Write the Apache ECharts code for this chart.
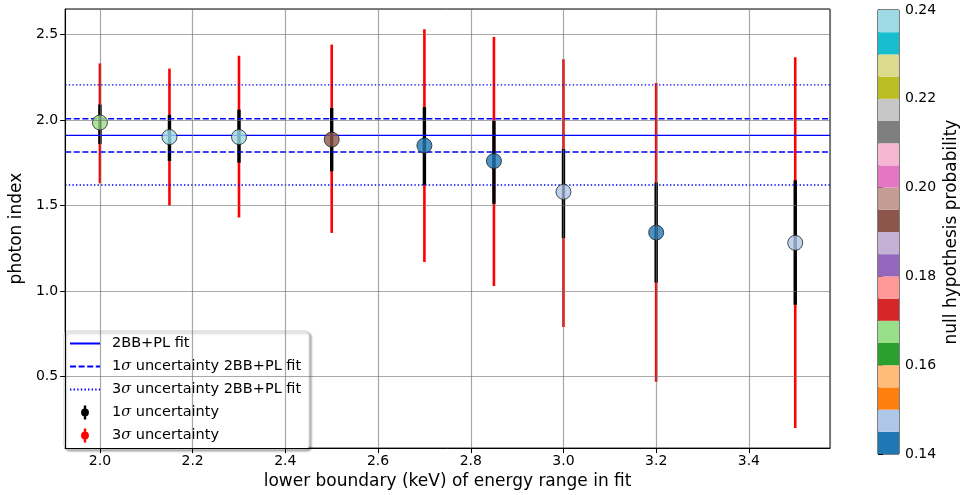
<!DOCTYPE html>
<html>
<head>
<meta charset="utf-8">
<script src="https://cdn.jsdelivr.net/npm/echarts@6/dist/echarts.min.js"></script>
<style>
  html, body { margin: 0; padding: 0; background: #fff; }
  #main { width: 961px; height: 495px; }
</style>
</head>
<body>
<div id="main"></div>
<script>
// lower boundary of the energy range (keV)
var energies = [2.0, 2.15, 2.3, 2.5, 2.7, 2.85, 3.0, 3.2, 3.5]
var photonIndex = [1.985, 1.90, 1.90, 1.885, 1.85, 1.76, 1.58, 1.342, 1.282]
var sig1Lo = [1.86, 1.76, 1.75, 1.70, 1.62, 1.51, 1.31, 1.05, 0.92]
var sig1Hi = [2.09, 2.03, 2.06, 2.07, 2.075, 1.995, 1.83, 1.634, 1.647]
var sig3Lo = [1.63, 1.50, 1.43, 1.34, 1.17, 1.03, 0.79, 0.47, 0.20]
var sig3Hi = [2.33, 2.30, 2.375, 2.44, 2.53, 2.485, 2.355, 2.216, 2.366]
var nullProb = [0.167, 0.238, 0.238, 0.192, 0.142, 0.142, 0.147, 0.142, 0.147]

// 2BB+PL fit and its uncertainties
var fitValue = 1.91
var fit1Sigma = [2.007, 1.813]
var fit3Sigma = [2.205, 1.62]

var xRange = [1.925, 3.575]
var yRange = [0.083, 2.648]
var cbarRange = [0.14, 0.24]

// tab20
var tab20 = ['#1f77b4', '#aec7e8', '#ff7f0e', '#ffbb78', '#2ca02c', '#98df8a', '#d62728', '#ff9896',
  '#9467bd', '#c5b0d5', '#8c564b', '#c49c94', '#e377c2', '#f7b6d2', '#7f7f7f', '#c7c7c7',
  '#bcbd22', '#dbdb8d', '#17becf', '#9edae5']

var FONT = 'DejaVu Sans'

function probColor(p) {
  var i = Math.floor((p - cbarRange[0]) / (cbarRange[1] - cbarRange[0]) * tab20.length)
  return tab20[Math.max(0, Math.min(tab20.length - 1, i))]
}

function hline(v) {
  return [[xRange[0], v], [xRange[1], v]]
}

function errBar(color, width) {
  return function(params, api) {
    var p0 = api.coord([api.value(0), api.value(1)])
    var p1 = api.coord([api.value(0), api.value(2)])
    return {
      type: 'line',
      shape: {x1: p0[0], y1: p0[1], x2: p1[0], y2: p1[1]},
      style: {stroke: color, lineWidth: width}
    }
  }
}

var bars3 = energies.map(function(e, i) { return [e, sig3Lo[i], sig3Hi[i]] })
var bars1 = energies.map(function(e, i) { return [e, sig1Lo[i], sig1Hi[i]] })
var points = energies.map(function(e, i) { return [e, photonIndex[i], nullProb[i]] })
var cbarBins = tab20.map(function(c, i) {
  var step = (cbarRange[1] - cbarRange[0]) / tab20.length
  return [0, cbarRange[0] + i * step, cbarRange[0] + (i + 1) * step, i]
})

var errIcon = 'path://M3.6,0h2.8v16h-2.8z M0.5,8a4.5,4.5 0 1 1 9,0a4.5,4.5 0 1 1 -9,0z'
var gridLine = {show: true, lineStyle: {color: 'rgba(110,110,110,0.6)', width: 1.2}}
var noSymbol = {opacity: 0}

var myChart = echarts.init(document.getElementById('main'))
myChart.setOption({
  animation: false,
  textStyle: {fontFamily: FONT},
  grid: [
    {left: 57, top: 9, width: 773, height: 445, show: true, borderColor: '#000', borderWidth: 1},
    {left: 878, top: 10, width: 22, height: 444, show: true, borderColor: '#000', borderWidth: 1}
  ],
  legend: {
    orient: 'vertical',
    left: 64,
    top: 331,
    padding: [5, 8, 6, 5],
    itemWidth: 30,
    itemHeight: 14,
    itemGap: 8,
    backgroundColor: '#fff',
    borderColor: '#d0d0d0',
    borderWidth: 1,
    borderRadius: 4,
    shadowColor: 'rgba(0,0,0,0.3)',
    shadowBlur: 2,
    shadowOffsetX: 2,
    shadowOffsetY: 2,
    textStyle: {
      fontFamily: FONT,
      fontSize: 14.5,
      color: '#000',
      padding: [0, 0, 0, 7],
      rich: {s: {fontFamily: 'DejaVu Serif', fontStyle: 'italic', fontSize: 14.5}}
    },
    formatter: function(name) { return name.replace('σ', '{s|σ}') },
    data: [
      {name: '2BB+PL fit', itemStyle: noSymbol},
      {name: '1σ uncertainty 2BB+PL fit', itemStyle: noSymbol},
      {name: '3σ uncertainty 2BB+PL fit', itemStyle: noSymbol},
      {name: '1σ uncertainty', icon: errIcon, itemStyle: {color: '#000'}},
      {name: '3σ uncertainty', icon: errIcon, itemStyle: {color: '#ff0000'}}
    ]
  },
  xAxis: [{
    type: 'value',
    gridIndex: 0,
    min: xRange[0],
    max: xRange[1],
    splitNumber: 8,
    z: 10,
    name: 'lower boundary (keV) of energy range in fit',
    nameLocation: 'middle',
    nameGap: 20,
    nameTextStyle: {fontSize: 17, color: '#000', fontFamily: FONT},
    axisLine: {show: true, onZero: false, lineStyle: {color: '#000'}},
    axisTick: {show: true, length: 5, lineStyle: {color: '#000'}},
    axisLabel: {
      fontSize: 14, color: '#000', margin: 6, showMinLabel: false, showMaxLabel: false,
      formatter: function(v) { return v.toFixed(1) }
    },
    splitLine: gridLine
  }, {
    type: 'value', gridIndex: 1, min: 0, max: 1, show: false
  }],
  yAxis: [{
    type: 'value',
    gridIndex: 0,
    min: yRange[0],
    max: yRange[1],
    splitNumber: 5,
    z: 10,
    name: 'photon index',
    nameLocation: 'middle',
    nameGap: 27,
    nameTextStyle: {fontSize: 17, color: '#000', fontFamily: FONT},
    axisLine: {show: true, onZero: false, lineStyle: {color: '#000'}},
    axisTick: {show: true, length: 5, lineStyle: {color: '#000'}},
    axisLabel: {
      fontSize: 14, color: '#000', margin: 7, showMinLabel: false, showMaxLabel: false,
      formatter: function(v) { return v.toFixed(1) }
    },
    splitLine: gridLine
  }, {
    type: 'value',
    gridIndex: 1,
    position: 'right',
    min: cbarRange[0],
    max: cbarRange[1],
    interval: 0.02,
    name: 'null hypothesis probability',
    nameLocation: 'middle',
    nameRotate: 90,
    nameGap: 44,
    nameTextStyle: {fontSize: 17, color: '#000', fontFamily: FONT},
    axisLine: {show: true, lineStyle: {color: '#000'}},
    axisTick: {show: true, length: 5, lineStyle: {color: '#000'}},
    axisLabel: {fontSize: 14, color: '#000', margin: 6, formatter: function(v) { return v.toFixed(2) }},
    splitLine: {show: false}
  }],
  series: [{
    name: '3σ uncertainty',
    type: 'custom',
    xAxisIndex: 0,
    yAxisIndex: 0,
    renderItem: errBar('#ff0000', 2.6),
    data: bars3,
    itemStyle: {color: '#ff0000'},
    z: 2
  }, {
    name: '1σ uncertainty',
    type: 'custom',
    xAxisIndex: 0,
    yAxisIndex: 0,
    renderItem: errBar('#000', 3.4),
    data: bars1,
    itemStyle: {color: '#000'},
    z: 3
  }, {
    name: '2BB+PL fit',
    type: 'line',
    symbol: 'none',
    data: hline(fitValue),
    lineStyle: {color: '#0000ff', width: 1.4},
    itemStyle: {color: '#0000ff'},
    z: 4
  }, {
    name: '1σ uncertainty 2BB+PL fit',
    type: 'line',
    symbol: 'none',
    data: hline(fit1Sigma[0]),
    lineStyle: {color: '#0000ff', width: 1.6, type: [6, 2.6]},
    itemStyle: {color: '#0000ff'},
    z: 4
  }, {
    name: '1σ uncertainty 2BB+PL fit',
    type: 'line',
    symbol: 'none',
    data: hline(fit1Sigma[1]),
    lineStyle: {color: '#0000ff', width: 1.6, type: [6, 2.6]},
    itemStyle: {color: '#0000ff'},
    z: 4
  }, {
    name: '3σ uncertainty 2BB+PL fit',
    type: 'line',
    symbol: 'none',
    data: hline(fit3Sigma[0]),
    lineStyle: {color: '#0000ff', width: 1.4, type: [1.4, 2.2]},
    itemStyle: {color: '#0000ff'},
    z: 4
  }, {
    name: '3σ uncertainty 2BB+PL fit',
    type: 'line',
    symbol: 'none',
    data: hline(fit3Sigma[1]),
    lineStyle: {color: '#0000ff', width: 1.4, type: [1.4, 2.2]},
    itemStyle: {color: '#0000ff'},
    z: 4
  }, {
    name: 'points',
    type: 'scatter',
    symbolSize: 15,
    data: points,
    itemStyle: {
      color: function(p) { return probColor(p.data[2]) },
      borderColor: '#222',
      borderWidth: 1
    },
    z: 5
  }, {
    name: 'colorbar',
    type: 'custom',
    xAxisIndex: 1,
    yAxisIndex: 1,
    renderItem: function(params, api) {
      var a = api.coord([0, api.value(1)])
      var b = api.coord([1, api.value(2)])
      return {
        type: 'rect',
        shape: {x: a[0], y: b[1], width: b[0] - a[0], height: a[1] - b[1]},
        style: {fill: tab20[api.value(3)]}
      }
    },
    data: cbarBins,
    z: 1
  }]
})
</script>
</body>
</html>
